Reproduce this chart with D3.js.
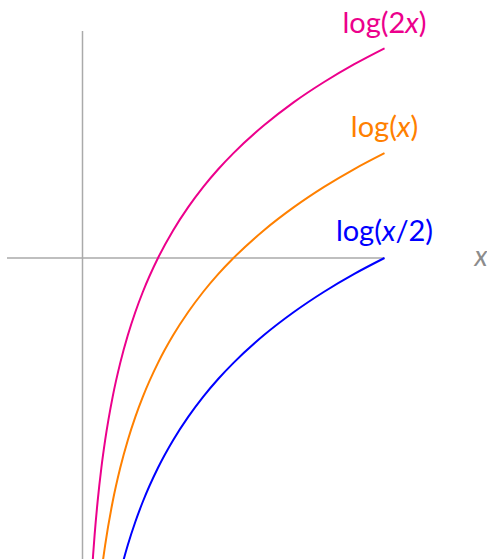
<!DOCTYPE html>
<html><head><meta charset="utf-8">
<script src="https://cdn.jsdelivr.net/npm/d3@7"></script>
<style>body{margin:0;background:#fff}svg{display:block}</style>
</head><body>
<script>
const xs = [0.06,0.07,0.08,0.1,0.125,0.15,0.2,0.25,0.3,0.35,0.4,0.5,0.6,0.7,0.8,0.9,1.0,1.2,1.4,1.6,1.8,2.0];
const log2x = [-2.120,-1.966,-1.833,-1.610,-1.386,-1.204,-0.916,-0.693,-0.511,-0.357,-0.223,0,0.182,0.336,0.470,0.588,0.693,0.875,1.030,1.163,1.281,1.386];
const logx  = [-2.813,-2.659,-2.526,-2.303,-2.079,-1.897,-1.609,-1.386,-1.204,-1.050,-0.916,-0.693,-0.511,-0.357,-0.223,-0.105,0,0.182,0.336,0.470,0.588,0.693];
const logxhalf = [-3.506,-3.352,-3.219,-2.996,-2.772,-2.590,-2.303,-2.079,-1.897,-1.743,-1.609,-1.386,-1.204,-1.050,-0.916,-0.798,-0.693,-0.511,-0.357,-0.223,-0.105,0];
const seriesNames = ["log(2x)","log(x)","log(x/2)"];
const seriesColors = ["#EC008C","#FF8000","#0000FF"];
const series = [log2x, logx, logxhalf];

const W=487,H=559;
const svg=d3.select("body").append("svg").attr("width",W).attr("height",H);
const x=d3.scaleLinear().domain([-0.5,2]).range([7,384.5]);
const y=d3.scaleLinear().domain([1.5,0]).range([31,258]);

svg.append("defs").append("clipPath").attr("id","c").append("rect").attr("x",0).attr("y",0).attr("width",W).attr("height",H);

const axc="#aaaaaa";
svg.append("line").attr("x1",x(-0.5)).attr("x2",x(2)).attr("y1",y(0)).attr("y2",y(0)).attr("stroke",axc).attr("stroke-width",1.5);
svg.append("line").attr("x1",x(0)).attr("x2",x(0)).attr("y1",y(1.5)).attr("y2",H).attr("stroke",axc).attr("stroke-width",1.5);
svg.append("text").attr("x",481).attr("y",266).attr("text-anchor","middle").attr("fill","#8c8c8c")
  .attr("font-family","Lato, 'Open Sans', sans-serif").attr("font-style","italic").attr("font-size",28).text("x");

const line=d3.line().x(d=>x(d[0])).y(d=>y(d[1])).curve(d3.curveMonotoneX);
const labelY=[33,137,241];
series.forEach((s,i)=>{
  const pts=xs.map((v,j)=>[v,s[j]]);
  svg.append("path").attr("d",line(pts)).attr("fill","none").attr("stroke",seriesColors[i]).attr("stroke-width",2).attr("clip-path","url(#c)");
  const t=svg.append("text").attr("x",x(2)).attr("y",labelY[i]).attr("text-anchor","middle").attr("fill",seriesColors[i])
    .attr("font-family","Lato, 'Open Sans', sans-serif").attr("font-size",29);
  const name=seriesNames[i];
  const parts=name.split("x");
  t.append("tspan").text(parts[0]);
  t.append("tspan").attr("font-style","italic").text("x");
  t.append("tspan").text(parts[1]);
});
</script>
</body></html>
